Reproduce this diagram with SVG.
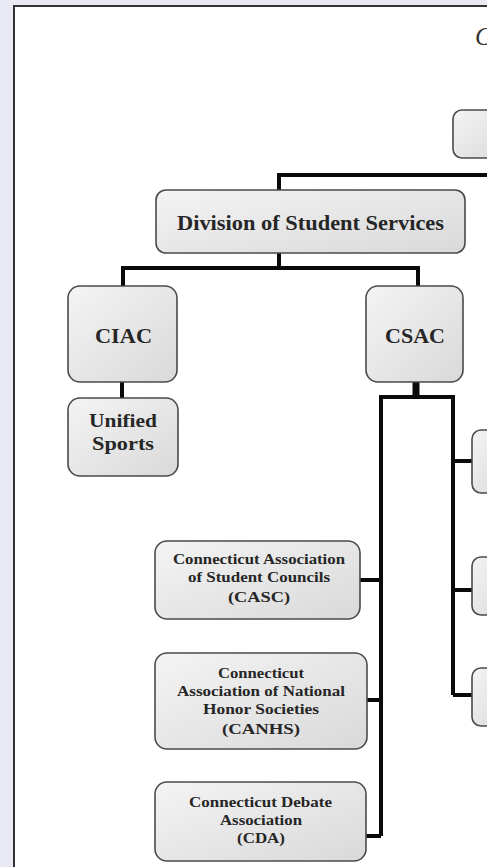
<svg xmlns="http://www.w3.org/2000/svg" width="487" height="867" viewBox="0 0 487 867">
<defs>
<linearGradient id="g" x1="0" y1="0" x2="1" y2="1">
<stop offset="0" stop-color="#f4f4f4"/>
<stop offset="1" stop-color="#d9d9d9"/>
</linearGradient>
<style>
.box{fill:url(#g);stroke:#4a4a4a;stroke-width:1.6}
.t{font-family:"Liberation Serif","Times New Roman",serif;font-weight:bold;fill:#262626;text-anchor:middle}
.big{font-size:22px}
.mid{font-size:19px}
.sm{font-size:15.5px}
.c{fill:none;stroke:#0a0a0a;stroke-width:4;stroke-linejoin:miter}
</style>
</defs>
<rect x="0" y="0" width="487" height="867" fill="#e9e9f4"/>
<rect x="14" y="6" width="480" height="870" fill="#ffffff" stroke="#333" stroke-width="2"/>
<text x="475" y="45" font-family="'Liberation Serif',serif" font-style="italic" font-size="25" fill="#333">C</text>
<g id="connectors">
<path class="c" d="M279,190 V175 H490"/>
<path class="c" d="M279,253 V268 H123 V286 M279,268 H418 V286"/>
<path class="c" d="M122,382 V398"/>
<path d="M416,382 V397" stroke="#0a0a0a" stroke-width="7" fill="none"/>
<path class="c" d="M381,836 V397 H453 V695"/>
<path class="c" d="M453,461 H472 M453,590 H472 M453,695 H472"/>
<path class="c" d="M381,580 H360 M381,700 H367 M381,836 H366"/>
</g>
<g id="top"><rect class="box" x="453" y="110" width="60" height="48" rx="9"/></g>
<g id="division"><rect class="box" x="156" y="190" width="309" height="63" rx="10"/><text class="t big" x="310.5" y="230" textLength="267" lengthAdjust="spacingAndGlyphs">Division of Student Services</text></g>
<g id="ciac"><rect class="box" x="68" y="286" width="109" height="96" rx="12"/><text class="t big" x="123.5" y="343" textLength="57" lengthAdjust="spacingAndGlyphs">CIAC</text></g>
<g id="csac"><rect class="box" x="366" y="286" width="97" height="96" rx="12"/><text class="t big" x="415" y="343" textLength="60" lengthAdjust="spacingAndGlyphs">CSAC</text></g>
<g id="unified"><rect class="box" x="68" y="398" width="110" height="78" rx="12"/><text class="t mid" x="123" y="427" textLength="68" lengthAdjust="spacingAndGlyphs">Unified</text><text class="t mid" x="123" y="450" textLength="62" lengthAdjust="spacingAndGlyphs">Sports</text></g>
<g id="r1"><rect class="box" x="472" y="430" width="40" height="63" rx="9"/></g>
<g id="r2"><rect class="box" x="472" y="557" width="40" height="58" rx="9"/></g>
<g id="r3"><rect class="box" x="472" y="668" width="40" height="58" rx="9"/></g>
<g id="casc"><rect class="box" x="155" y="541" width="205" height="78" rx="12"/><text class="t sm" x="259" y="564" textLength="172" lengthAdjust="spacingAndGlyphs">Connecticut Association</text><text class="t sm" x="259" y="582" textLength="142" lengthAdjust="spacingAndGlyphs">of Student Councils</text><text class="t sm" x="259" y="602" textLength="62" lengthAdjust="spacingAndGlyphs">(CASC)</text></g>
<g id="canhs"><rect class="box" x="155" y="653" width="212" height="96" rx="12"/><text class="t sm" x="261" y="678" textLength="86" lengthAdjust="spacingAndGlyphs">Connecticut</text><text class="t sm" x="261" y="696" textLength="168" lengthAdjust="spacingAndGlyphs">Association of National</text><text class="t sm" x="261" y="714" textLength="116" lengthAdjust="spacingAndGlyphs">Honor Societies</text><text class="t sm" x="261" y="734" textLength="78" lengthAdjust="spacingAndGlyphs">(CANHS)</text></g>
<g id="cda"><rect class="box" x="155" y="782" width="211" height="79" rx="12"/><text class="t sm" x="260.5" y="807" textLength="143" lengthAdjust="spacingAndGlyphs">Connecticut Debate</text><text class="t sm" x="261" y="825" textLength="82" lengthAdjust="spacingAndGlyphs">Association</text><text class="t sm" x="261" y="843" textLength="48" lengthAdjust="spacingAndGlyphs">(CDA)</text></g>
</svg>
